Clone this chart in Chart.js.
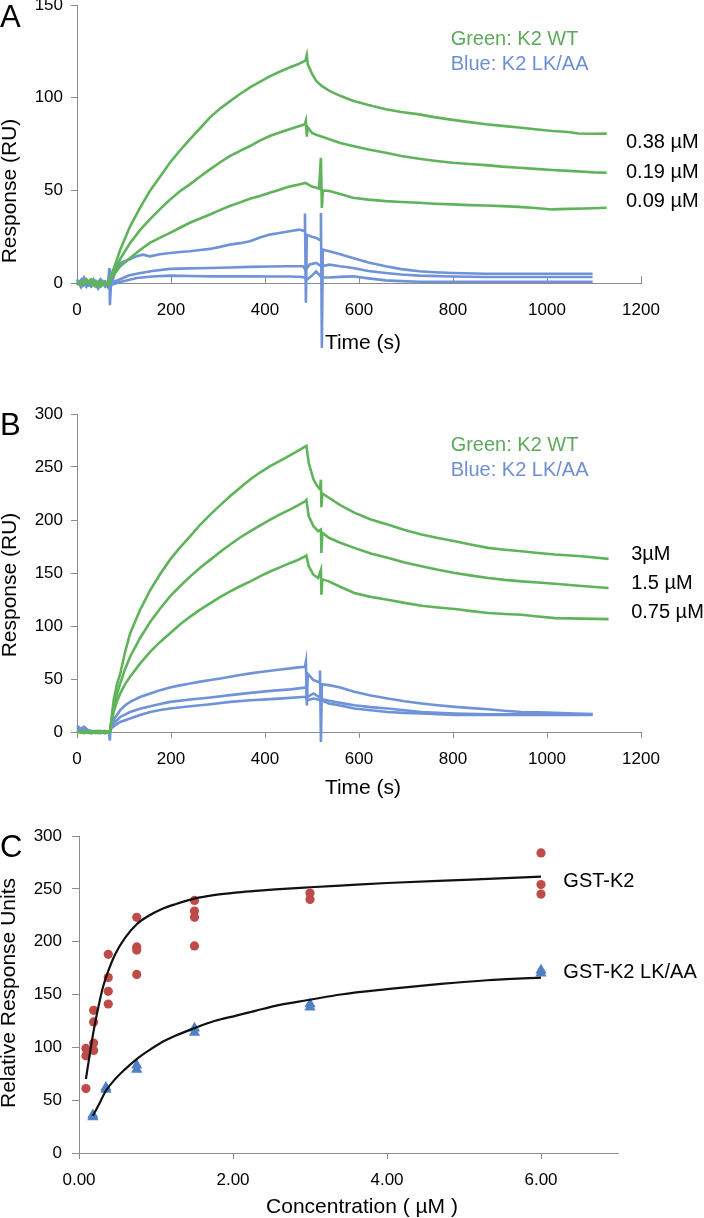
<!DOCTYPE html>
<html>
<head>
<meta charset="utf-8">
<script src="https://cdn.jsdelivr.net/npm/chart.js@4"></script>
<style>
  body { margin:0; background:#fff; width:704px; height:1218px; overflow:hidden; position:relative; }
  canvas { position:absolute; left:0; }
</style>
</head>
<body>
<canvas id="graficaA" width="704" height="372" style="top:0px;width:704px;height:372px"></canvas>
<canvas id="graficaB" width="704" height="428" style="top:372px;width:704px;height:428px"></canvas>
<canvas id="graficaC" width="704" height="418" style="top:800px;width:704px;height:418px"></canvas>
<script>
// Panel A: sensorgrams [time s, response RU]
const A_wt038 = [[0,1],[10,-1],[20,2],[30,-1],[40,1],[50,-2],[60,0],[68,1],[71,3],[80,9],[92,18],[113,30.6],[134,40.5],[155,49.6],[177,57.5],[198,65],[219,71.5],[240,77.5],[262,83.5],[283,89.4],[304,94],[325,98],[347,102],[368,105.5],[389,108.5],[410,111.5],[431,114],[452,116.3],[470,118],[486,120],[489,123],[491,118],[500,113],[509,109],[520,106.5],[537,103.7],[560,101],[587,98.3],[620,96],[657,93.8],[690,92.3],[728,91],[760,89.5],[799,88],[835,86.8],[870,85.7],[905,84.8],[940,83.9],[975,83],[1011,82],[1045,81.5],[1067,80.7],[1100,80.5],[1127,80.6]];
const A_wt019 = [[0,-1],[10,1],[20,0],[30,2],[40,-1],[50,0],[60,-1],[68,0],[71,2],[80,7],[92,13],[113,21.6],[134,28.5],[155,34.3],[177,40],[198,45],[219,49.5],[240,53.2],[262,57.5],[283,61.3],[304,65],[325,68.5],[347,71.3],[368,73.9],[389,76.8],[410,79.3],[431,81.2],[452,83],[470,84.5],[485,85.7],[487,87.5],[489,79],[491,84],[500,81],[509,80],[520,79],[537,77.6],[560,75.5],[587,73.9],[620,72],[657,70.3],[690,68.5],[728,67],[760,66],[799,64.9],[835,64.2],[870,63.6],[905,62.8],[940,62.2],[975,61.6],[1011,61],[1045,60.5],[1080,60],[1100,59.7],[1127,59.5]];
const A_wt009 = [[0,0],[10,-1],[20,1],[30,0],[40,-2],[50,1],[60,0],[68,-1],[71,2],[80,5],[92,9],[113,13.5],[134,17.8],[155,21.6],[177,24.5],[198,27],[219,29.8],[240,32.5],[262,34.8],[283,37],[304,39.3],[325,41.5],[347,43.5],[368,45.5],[389,47],[410,48.7],[431,50.3],[452,52],[470,53],[486,54],[500,52],[515,51],[519,67.5],[521,40.5],[523,50],[537,49.6],[560,48],[587,46],[620,45],[657,44.2],[690,43.7],[728,43.3],[760,42.8],[799,42.4],[835,42],[870,41.8],[905,41.5],[940,41.1],[975,40.5],[1011,39.7],[1045,40],[1080,40.2],[1127,40.6]];
const A_lk1 = [[0,2],[8,-2],[15,3],[25,-1],[35,2],[45,-3],[55,1],[65,-2],[69,8],[70,-12],[72,-2],[80,5],[92,10.8],[110,12.5],[127,14.5],[140,15.3],[155,14.4],[177,15.5],[198,16.2],[219,16.7],[240,17.1],[262,17.8],[283,18.4],[304,19.5],[325,20.7],[347,21.5],[368,22.5],[389,24.5],[410,26.1],[431,27],[452,27.9],[473,28.8],[484,28],[485,37.5],[487,-10.7],[489,26],[500,25],[509,24.3],[518,23],[519,37.8],[521,-35],[523,18],[537,17.1],[560,15.5],[587,13.5],[620,11],[657,9],[690,7.5],[728,6.3],[760,5.8],[799,5.4],[870,5],[940,5],[1011,5],[1060,5],[1097,5]];
const A_lk2 = [[0,-1],[10,2],[20,-2],[30,1],[40,-1],[50,2],[60,-2],[68,0],[72,0],[92,2],[110,4],[127,5],[160,6.5],[198,7.6],[240,7.9],[283,8.1],[325,8.4],[368,8.7],[410,8.9],[452,9],[481,9],[486,7],[495,10],[509,10.8],[520,9],[537,9.9],[560,9],[587,8.1],[620,6.5],[657,5.4],[690,4.6],[728,4],[799,3.5],[870,3.2],[940,3.2],[1011,3.2],[1097,3.2]];
const A_lk3 = [[0,1],[10,-2],[20,0],[30,-2],[40,1],[50,-1],[60,1],[68,-1],[72,-1],[92,0.5],[127,2.7],[160,3.5],[198,4],[240,3.8],[283,3.6],[325,3.6],[368,3.6],[410,3.5],[452,3.5],[481,3.2],[490,2],[500,4],[509,6.3],[520,3],[537,3],[560,3.3],[587,3.6],[620,2.5],[657,1.4],[690,1],[728,0.7],[799,0.7],[870,0.7],[940,0.7],[1011,0.7],[1097,0.7]];
const concA = ["0.38 µM", "0.19 µM", "0.09 µM"];

// Panel B
const B_wt3 = [[0,0],[15,-1],[30,1],[45,-1],[60,0],[70,0],[74,15],[78,30],[85,45],[92,55],[102,75],[113,93],[134,115],[156,134],[177,149],[198,162.6],[219,174],[241,184.7],[262,195.5],[284,205.3],[305,214],[326,222.6],[347,230.5],[369,238.4],[390,245],[412,251],[433,256],[454,261.2],[471,265.5],[488,270],[493,254],[503,238.4],[511,232],[517,229],[519,238],[520,212],[522,225],[536,221],[560,214],[590,206.9],[625,200.5],[661,195.8],[697,190.5],[733,186.3],[768,183],[804,180],[840,176.7],[875,173.7],[910,172],[946,170.5],[981,168.8],[1017,167.4],[1074,165.8],[1131,163.3]];
const B_wt15 = [[0,1],[15,0],[30,-1],[45,1],[60,-1],[70,0],[74,12],[78,24],[85,36],[92,45.8],[102,59],[113,71],[134,88.5],[156,104],[177,116.5],[198,127.9],[219,137.5],[241,146.8],[262,155],[284,162.6],[305,170],[326,176.9],[347,183.5],[369,189.5],[390,195],[412,200.5],[433,205.5],[454,210],[471,214],[486,217.9],[488,219],[493,203.7],[503,194.2],[513,189.5],[519,191],[520,169],[522,188],[536,183.2],[560,178.5],[590,173.7],[625,168.5],[661,164.3],[697,160],[733,156.3],[768,153],[804,150],[840,147.5],[875,145.3],[910,143.5],[946,142.1],[981,141],[1017,139.9],[1074,137.8],[1131,135.8]];
const B_wt075 = [[0,0],[15,1],[30,-1],[45,0],[60,1],[70,0],[74,10],[78,19],[85,29],[92,36.4],[102,45],[113,52.1],[134,64.5],[156,75.8],[177,85],[198,93.2],[219,101.5],[241,108.9],[262,115.5],[284,121.6],[305,127.5],[326,132.6],[347,137.5],[369,142.1],[390,147],[412,151.6],[433,155.5],[454,159.5],[471,162.5],[486,165.8],[488,166.5],[493,156.3],[503,148.4],[513,145.3],[519,153],[520,129.5],[522,144],[536,142.1],[560,137],[590,131.1],[625,127.5],[661,124.8],[697,121.8],[733,119.1],[768,117.5],[804,116],[840,114],[875,112.2],[910,111.3],[946,110.6],[981,109],[1017,107.4],[1074,107],[1131,106.5]];
const B_lk1 = [[0,6],[8,3],[15,5],[22,2],[30,1],[40,0],[50,-1],[60,0],[68,-1],[70,-8],[71,6.3],[80,13],[92,20.6],[102,25],[113,28.4],[134,33],[156,36.4],[177,39.5],[198,42],[219,44],[241,45.8],[262,47.5],[284,49],[305,50.5],[326,52.1],[347,53.8],[369,55.3],[390,56.6],[412,57.8],[433,59],[454,60],[470,61],[485,61.6],[487,66.3],[489,25],[491,55],[503,49],[515,47],[517,58],[519,-9.5],[521,45],[536,44.2],[560,42],[590,37.9],[625,34.5],[661,31.6],[697,29],[733,26.9],[768,25.2],[804,23.7],[840,22.5],[875,21.5],[910,20],[946,18.9],[981,18.5],[1017,18],[1060,17.5],[1097,17]];
const B_lk2 = [[0,4],[10,2],[20,3],[30,0],[40,1],[50,0],[60,-1],[70,0],[72,4],[80,9],[92,14.2],[113,18.9],[134,22],[156,24.3],[177,26.5],[198,28.4],[241,30.7],[284,32.6],[326,34.8],[369,36.9],[412,38.8],[454,40.2],[486,42],[488,44],[490,33],[503,36.4],[515,33],[522,31],[536,29.5],[560,27.5],[590,25.3],[625,23.5],[661,22.2],[697,20.5],[733,18.9],[768,18],[804,17.4],[875,16.8],[946,16.8],[1017,16.8],[1097,16.8]];
const B_lk3 = [[0,3],[10,1],[20,2],[30,0],[40,-1],[50,1],[60,0],[70,-1],[72,3],[80,6],[92,9.5],[113,12.7],[134,16],[156,18.9],[177,20.7],[198,22.2],[241,24.3],[284,26.2],[326,28.4],[369,30],[412,31],[454,32.2],[486,33.2],[490,30],[503,31.6],[520,30],[536,26.9],[560,25],[590,22.2],[625,20.5],[661,18.9],[697,18],[733,17.4],[804,16],[875,16],[946,16],[1017,16],[1097,16]];
const concB = ["3µM", "1.5 µM", "0.75 µM"];

// Panel C: binding vs concentration
const concWT = [0.09,0.09,0.09,0.19,0.19,0.19,0.19,0.38,0.38,0.38,0.38,0.75,0.75,0.75,0.75,1.5,1.5,1.5,1.5,3,3,6,6,6];
const respWT = [61,92,99,135,124,104,97,188,166,153,141,223,195,192,169,239,229,223,196,246,240,284,254,245];
const concLK = [0.18,0.18,0.35,0.35,0.75,0.75,1.5,1.5,3,3,6,6];
const respLK = [34,36,62,60,83,79,118,114,141,138,173,170];
const ajusteWT_x = [0.09,0.14,0.19,0.25,0.31,0.38,0.47,0.6,0.75,0.9,1.07,1.25,1.5,1.77,2.03,2.29,2.55,3.0,3.5,4.0,5.0,6.0];
const ajusteWT_y = [70,93.6,115.6,137.6,156.6,172.3,188.1,203.8,216.5,224.3,230.7,235.4,240.7,244.2,246.4,248,249.5,251.5,253.5,255.5,258.5,261.5];
const ajusteLK_x = [0.18,0.25,0.35,0.47,0.6,0.75,0.9,1.07,1.25,1.5,1.77,2.03,2.29,2.55,3.0,3.4,4.0,4.7,5.3,6.0];
const ajusteLK_y = [35.3,44.7,58.9,70,79.4,88.9,96.7,104.6,110.9,118.2,125.1,129.8,134.5,139.3,145,150,155,160,163.5,166];

const VERDE = '#5fb35a';
const AZUL = '#6f92d8';
const EJE = '#8c8c8c';
const FUENTE = '"Liberation Sans", Arial, sans-serif';

// draws free text (titles, labels) on the chart
const textos = {
  id: 'textos',
  afterDraw(chart, args, opts) {
    const ctx = chart.ctx;
    (opts.items || []).forEach(it => {
      let x = it.px, y = it.py;
      if (it.xv !== undefined) x = chart.scales.x.getPixelForValue(it.xv);
      if (it.yv !== undefined) y = chart.scales.y.getPixelForValue(it.yv);
      ctx.save();
      ctx.font = it.font;
      ctx.fillStyle = it.color || '#000';
      ctx.textAlign = it.align || 'left';
      ctx.textBaseline = it.base || 'middle';
      ctx.translate(x, y);
      if (it.rot) ctx.rotate(it.rot);
      ctx.fillText(it.text, 0, 0);
      ctx.restore();
    });
  }
};

function pares(arr) {
  return arr.map(p => ({x: p[0], y: p[1]}));
}

function traza(datos, color) {
  return {
    data: pares(datos),
    showLine: true,
    borderColor: color,
    borderWidth: 2.6,
    pointRadius: 0,
    tension: 0,
    clip: false
  };
}

function ejes(ymax, ystep, xTickLen, xPad, altoX, anchoY) {
  return {
    x: {
      type: 'linear', min: 0, max: 1200,
      ticks: { stepSize: 200, autoSkip: false, maxRotation: 0, includeBounds: false, padding: xPad,
               color: '#000', font: { family: FUENTE, size: 17 }, callback: v => String(v) },
      grid: { drawOnChartArea: false, tickLength: xTickLen, color: EJE },
      border: { color: EJE, width: 1 },
      afterFit: s => { s.height = altoX; s.paddingLeft = 0; s.paddingRight = 0; }
    },
    y: {
      min: 0, max: ymax,
      ticks: { stepSize: ystep, padding: 8, color: '#000', font: { family: FUENTE, size: 17 } },
      grid: { drawOnChartArea: false, tickLength: 6, color: EJE },
      border: { color: EJE, width: 1 },
      afterFit: s => { s.width = anchoY; s.paddingTop = 0; s.paddingBottom = 0; }
    }
  };
}

const f20 = '20px ' + FUENTE;
const f21 = '21px ' + FUENTE;
const fLetra = '31px ' + FUENTE;

new Chart(document.getElementById('graficaA'), {
  type: 'scatter',
  data: { datasets: [
    traza(A_wt038, VERDE), traza(A_wt019, VERDE), traza(A_wt009, VERDE),
    traza(A_lk1, AZUL), traza(A_lk2, AZUL), traza(A_lk3, AZUL)
  ]},
  options: {
    responsive: false, animation: false, devicePixelRatio: 1,
    layout: { padding: { top: 5, right: 63, left: 0, bottom: 0 } },
    scales: ejes(150, 50, -7, 24, 89, 77),
    plugins: {
      legend: { display: false }, tooltip: { enabled: false },
      textos: { items: [
        { text: 'A', px: 0, py: 27, font: fLetra, base: 'alphabetic' },
        { text: 'Response (RU)', px: 10, py: 191, font: f21, align: 'center', rot: -Math.PI / 2 },
        { text: 'Time (s)', px: 363, py: 343, font: f21, align: 'center' },
        { text: 'Green: K2 WT', xv: 795, yv: 131.5, font: f20, color: '#5ea95a' },
        { text: 'Blue: K2 LK/AA', xv: 795, yv: 118, font: f20, color: '#6f8fd3' },
        { text: concA[0], xv: 1168, yv: 75.9, font: f20 },
        { text: concA[1], xv: 1168, yv: 59.6, font: f20 },
        { text: concA[2], xv: 1168, yv: 43.9, font: f20 }
      ]}
    }
  },
  plugins: [textos]
});

new Chart(document.getElementById('graficaB'), {
  type: 'scatter',
  data: { datasets: [
    traza(B_wt3, VERDE), traza(B_wt15, VERDE), traza(B_wt075, VERDE),
    traza(B_lk1, AZUL), traza(B_lk2, AZUL), traza(B_lk3, AZUL)
  ]},
  options: {
    responsive: false, animation: false, devicePixelRatio: 1,
    layout: { padding: { top: 42, right: 63, left: 0, bottom: 0 } },
    scales: ejes(300, 50, 6, 11, 68, 77),
    plugins: {
      legend: { display: false }, tooltip: { enabled: false },
      textos: { items: [
        { text: 'B', px: 0, py: 63, font: fLetra, base: 'alphabetic' },
        { text: 'Response (RU)', px: 10, py: 213, font: f21, align: 'center', rot: -Math.PI / 2 },
        { text: 'Time (s)', px: 363, py: 416, font: f21, align: 'center' },
        { text: 'Green: K2 WT', xv: 795, yv: 270, font: f20, color: '#5ea95a' },
        { text: 'Blue: K2 LK/AA', xv: 795, yv: 246.3, font: f20, color: '#6f8fd3' },
        { text: concB[0], xv: 1179, yv: 167.4, font: f20 },
        { text: concB[1], xv: 1179, yv: 139.9, font: f20 },
        { text: concB[2], xv: 1179, yv: 112.4, font: f20 }
      ]}
    }
  },
  plugins: [textos]
});

new Chart(document.getElementById('graficaC'), {
  type: 'scatter',
  data: { datasets: [
    { data: ajusteWT_x.map((c, i) => ({x: c, y: ajusteWT_y[i]})), showLine: true, borderColor: '#111',
      borderWidth: 2.2, pointRadius: 0, cubicInterpolationMode: 'monotone' },
    { data: ajusteLK_x.map((c, i) => ({x: c, y: ajusteLK_y[i]})), showLine: true, borderColor: '#111',
      borderWidth: 2.2, pointRadius: 0, cubicInterpolationMode: 'monotone' },
    { data: concWT.map((c, i) => ({x: c, y: respWT[i]})), pointStyle: 'circle', pointRadius: 4.6,
      backgroundColor: '#be4b48', borderColor: '#be4b48', borderWidth: 0 },
    { data: concLK.map((c, i) => ({x: c, y: respLK[i]})), pointStyle: 'triangle', pointRadius: 6.5,
      backgroundColor: '#4f7fc4', borderColor: '#4f7fc4', borderWidth: 0 }
  ]},
  options: {
    responsive: false, animation: false, devicePixelRatio: 1,
    layout: { padding: { top: 36, right: 86, left: 0, bottom: 0 } },
    scales: {
      x: {
        type: 'linear', min: 0, max: 7,
        ticks: { stepSize: 2, includeBounds: false, autoSkip: false, maxRotation: 0, padding: 11,
                 color: '#000', font: { family: FUENTE, size: 17 }, callback: v => v.toFixed(2) },
        grid: { drawOnChartArea: false, tickLength: 6, color: EJE },
        border: { color: EJE, width: 1 },
        afterFit: s => { s.height = 65; s.paddingLeft = 0; s.paddingRight = 0; }
      },
      y: {
        min: 0, max: 300,
        ticks: { stepSize: 50, padding: 10, color: '#000', font: { family: FUENTE, size: 17 } },
        grid: { drawOnChartArea: false, tickLength: 7, color: EJE },
        border: { color: EJE, width: 1 },
        afterFit: s => { s.width = 79; s.paddingTop = 0; s.paddingBottom = 0; }
      }
    },
    plugins: {
      legend: { display: false }, tooltip: { enabled: false },
      textos: { items: [
        { text: 'C', px: 0, py: 57, font: fLetra, base: 'alphabetic' },
        { text: 'Relative Response Units', px: 9, py: 193, font: f21, align: 'center', rot: -Math.PI / 2 },
        { text: 'Concentration ( µM )', px: 362, py: 407, font: f21, align: 'center' },
        { text: 'GST-K2', xv: 6.29, yv: 257.4, font: f20 },
        { text: 'GST-K2 LK/AA', xv: 6.29, yv: 170.5, font: f20 }
      ]}
    }
  },
  plugins: [textos]
});
</script>
</body>
</html>
